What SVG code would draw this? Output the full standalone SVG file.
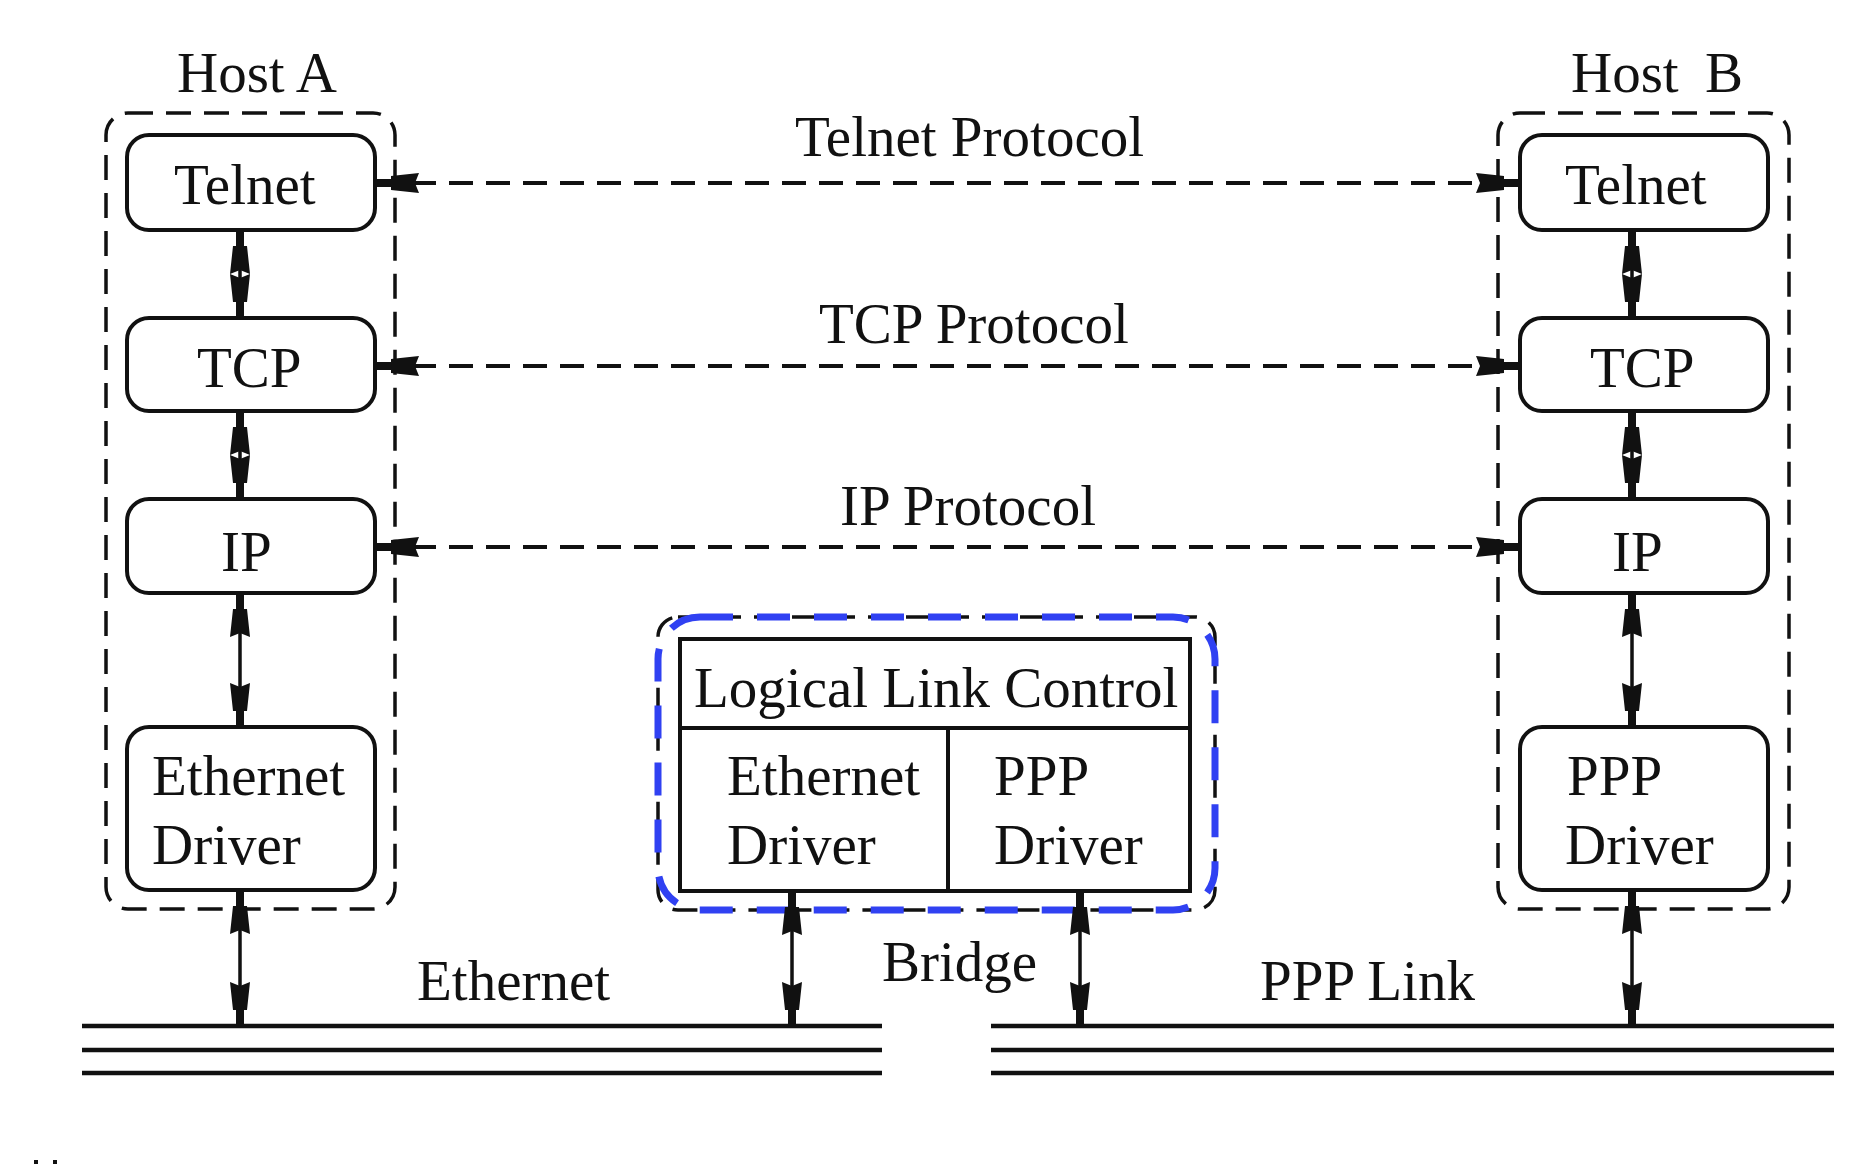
<svg xmlns="http://www.w3.org/2000/svg" xmlns:xlink="http://www.w3.org/1999/xlink" width="1874" height="1164" viewBox="0 0 1874 1164">
<style>
text{font-family:"Liberation Serif","Times New Roman",serif;font-size:57px;fill:#111}
.node{fill:#fff;stroke:#111;stroke-width:4}
.host{fill:none;stroke:#111;stroke-width:3.5;stroke-dasharray:25 13}
.proto{stroke:#111;stroke-width:4;stroke-dasharray:24 13;fill:none}
.link{stroke:#111;stroke-width:3.5;fill:none}
.bus{stroke:#111;stroke-width:4.5}
.ah{fill:#111}
</style>
<defs>
<path id="ah" d="M-4,0 H4 V16 H7 L10,44 L0,40 L-10,44 L-7,16 H-4 Z"/>
</defs>
<rect width="1874" height="1164" fill="#fff"/>

<g id="hostA">
<text x="177" y="92">Host A</text>
<rect class="host" x="106" y="113" width="289" height="796" rx="22"/>
</g>
<g id="hostB">
<text x="1571" y="92">Host<tspan x="1705">B</tspan></text>
<rect class="host" x="1498" y="113" width="291" height="796" rx="22"/>
</g>

<g id="telnetA"><rect class="node" x="127" y="135" width="248" height="95" rx="22"/><text x="174" y="204">Telnet</text></g>
<g id="tcpA"><rect class="node" x="127" y="318" width="248" height="93" rx="22"/><text x="197" y="387">TCP</text></g>
<g id="ipA"><rect class="node" x="127" y="499" width="248" height="94" rx="22"/><text x="221" y="571">IP</text></g>
<g id="ethA"><rect class="node" x="127" y="727" width="248" height="163" rx="22"/><text x="152" y="795">Ethernet</text><text x="152" y="864">Driver</text></g>

<g id="telnetB"><rect class="node" x="1520" y="135" width="248" height="95" rx="22"/><text x="1565" y="204">Telnet</text></g>
<g id="tcpB"><rect class="node" x="1520" y="318" width="248" height="93" rx="22"/><text x="1590" y="387">TCP</text></g>
<g id="ipB"><rect class="node" x="1520" y="499" width="248" height="94" rx="22"/><text x="1612" y="571">IP</text></g>
<g id="pppB"><rect class="node" x="1520" y="727" width="248" height="163" rx="22"/><text x="1567" y="795">PPP</text><text x="1565" y="864">Driver</text></g>

<g id="bridge">
<rect x="658" y="617" width="557" height="293" rx="20" fill="none" stroke="#111" stroke-width="3.5" stroke-dasharray="25 13"/>
<rect x="658" y="617" width="557" height="293" rx="42" fill="none" stroke="#3041f2" stroke-width="7" stroke-dasharray="33 24"/>
<rect class="node" x="680" y="639" width="510" height="252" fill="none"/>
<line x1="680" y1="728" x2="1190" y2="728" stroke="#111" stroke-width="4"/>
<line x1="948" y1="728" x2="948" y2="891" stroke="#111" stroke-width="4"/>
<text x="694" y="707">Logical Link Control</text>
<text x="727" y="795">Ethernet</text><text x="727" y="864">Driver</text>
<text x="994" y="795">PPP</text><text x="994" y="864">Driver</text>
<text x="882" y="981">Bridge</text>
</g>

<g id="ethernet">
<line class="bus" x1="82" y1="1026" x2="882" y2="1026"/>
<line class="bus" x1="82" y1="1050" x2="882" y2="1050"/>
<line class="bus" x1="82" y1="1073" x2="882" y2="1073"/>
<text x="417" y="1000">Ethernet</text>
</g>
<g id="ppplink">
<line class="bus" x1="991" y1="1026" x2="1834" y2="1026"/>
<line class="bus" x1="991" y1="1050" x2="1834" y2="1050"/>
<line class="bus" x1="991" y1="1073" x2="1834" y2="1073"/>
<text x="1260" y="1000">PPP Link</text>
</g>

<g id="connectors">
<line class="proto" x1="375" y1="183" x2="1520" y2="183"/>
<line class="proto" x1="375" y1="366" x2="1520" y2="366"/>
<line class="proto" x1="375" y1="547" x2="1520" y2="547"/>
<text x="795" y="156">Telnet Protocol</text>
<text x="819" y="343">TCP Protocol</text>
<text x="840" y="525">IP Protocol</text>
<g class="ah">
<use xlink:href="#ah" transform="translate(375,183) rotate(-90)"/>
<use xlink:href="#ah" transform="translate(1520,183) rotate(90)"/>
<use xlink:href="#ah" transform="translate(375,366) rotate(-90)"/>
<use xlink:href="#ah" transform="translate(1520,366) rotate(90)"/>
<use xlink:href="#ah" transform="translate(375,547) rotate(-90)"/>
<use xlink:href="#ah" transform="translate(1520,547) rotate(90)"/>
</g>
<g>
<line class="link" x1="240" y1="230" x2="240" y2="318"/>
<line class="link" x1="240" y1="411" x2="240" y2="499"/>
<line class="link" x1="240" y1="593" x2="240" y2="727"/>
<line class="link" x1="240" y1="890" x2="240" y2="1026"/>
<line class="link" x1="1632" y1="230" x2="1632" y2="318"/>
<line class="link" x1="1632" y1="411" x2="1632" y2="499"/>
<line class="link" x1="1632" y1="593" x2="1632" y2="727"/>
<line class="link" x1="1632" y1="890" x2="1632" y2="1026"/>
<line class="link" x1="792" y1="891" x2="792" y2="1026"/>
<line class="link" x1="1080" y1="891" x2="1080" y2="1026"/>
</g>
<g class="ah">
<use xlink:href="#ah" transform="translate(240,230)"/>
<use xlink:href="#ah" transform="translate(240,318) scale(1,-1)"/>
<use xlink:href="#ah" transform="translate(240,411)"/>
<use xlink:href="#ah" transform="translate(240,499) scale(1,-1)"/>
<use xlink:href="#ah" transform="translate(240,593)"/>
<use xlink:href="#ah" transform="translate(240,727) scale(1,-1)"/>
<use xlink:href="#ah" transform="translate(240,890)"/>
<use xlink:href="#ah" transform="translate(240,1026) scale(1,-1)"/>
<use xlink:href="#ah" transform="translate(1632,230)"/>
<use xlink:href="#ah" transform="translate(1632,318) scale(1,-1)"/>
<use xlink:href="#ah" transform="translate(1632,411)"/>
<use xlink:href="#ah" transform="translate(1632,499) scale(1,-1)"/>
<use xlink:href="#ah" transform="translate(1632,593)"/>
<use xlink:href="#ah" transform="translate(1632,727) scale(1,-1)"/>
<use xlink:href="#ah" transform="translate(1632,890)"/>
<use xlink:href="#ah" transform="translate(1632,1026) scale(1,-1)"/>
<use xlink:href="#ah" transform="translate(792,891)"/>
<use xlink:href="#ah" transform="translate(792,1026) scale(1,-1)"/>
<use xlink:href="#ah" transform="translate(1080,891)"/>
<use xlink:href="#ah" transform="translate(1080,1026) scale(1,-1)"/>
</g>
</g>

<g id="marks" fill="#111">
<rect x="34" y="1160" width="4" height="4"/>
<rect x="53" y="1160" width="4" height="4"/>
</g>
</svg>
